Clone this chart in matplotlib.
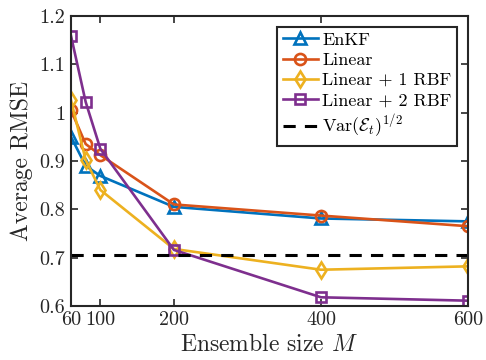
import matplotlib
matplotlib.use("Agg")
import matplotlib.pyplot as plt

plt.rcParams['font.family'] = 'serif'
plt.rcParams['font.serif'] = ['cmr10']
plt.rcParams['mathtext.fontset'] = 'cm'
plt.rcParams['axes.formatter.use_mathtext'] = True

M = [60, 80, 100, 200, 400, 600]
enkf = [0.950, 0.890, 0.869, 0.805, 0.781, 0.775]
linear = [1.005, 0.935, 0.912, 0.810, 0.787, 0.765]
lin_rbf1 = [1.026, 0.902, 0.840, 0.718, 0.675, 0.682]
lin_rbf2 = [1.159, 1.022, 0.925, 0.716, 0.618, 0.611]
var_level = 0.706
xticks = [60, 100, 200, 400, 600]
yticks = [0.6, 0.7, 0.8, 0.9, 1.0, 1.1, 1.2]
ytick_labels = ['0.6', '0.7', '0.8', '0.9', '1', '1.1', '1.2']

fig = plt.figure(figsize=(4.86, 3.6), dpi=100)
ax = fig.add_axes([0.146, 0.15, 0.817, 0.806])

lw = 1.9
ms = 8
mew = 1.9
ax.plot(M, enkf, '-^', color='#0072BD', lw=lw, ms=ms, mfc='none', mew=mew, label='EnKF')
ax.plot(M, linear, '-o', color='#D95319', lw=lw, ms=ms, mfc='none', mew=mew, label='Linear')
ax.plot(M, lin_rbf1, '-d', color='#EDB120', lw=lw, ms=ms, mfc='none', mew=mew, label='Linear + 1 RBF')
ax.plot(M, lin_rbf2, '-s', color='#7E2F8E', lw=lw, ms=ms-0.8, mfc='none', mew=mew, label='Linear + 2 RBF')
ax.axhline(var_level, color='black', ls=(0, (4, 3)), lw=2.2, label=r'Var$(\mathcal{E}_t)^{1/2}$')

ax.set_xlim(60, 600)
ax.set_ylim(0.6, 1.2)
ax.set_xticks(xticks)
ax.set_xticklabels([str(t) for t in xticks])
ax.set_yticks(yticks)
ax.set_yticklabels(ytick_labels)
ax.tick_params(direction='in', top=True, right=True, labelsize=14.5, length=5, width=1.2,
               colors='#262626', labelcolor='#262626', pad=4)
for s in ax.spines.values():
    s.set_linewidth(1.5)
    s.set_color('#262626')

ax.set_xlabel(r'Ensemble size $M$', fontsize=17, color='#262626', labelpad=3)
ax.set_ylabel('Average RMSE', fontsize=17, color='#262626', labelpad=5)

leg = ax.legend(loc='upper right', fontsize=13, frameon=True, fancybox=False,
                edgecolor='#262626', framealpha=1, handlelength=1.95, handletextpad=0.25,
                borderpad=0.3, labelspacing=0.25, borderaxespad=0.6)
leg.get_frame().set_linewidth(1.5)

fig.savefig('out.png', dpi=100)
